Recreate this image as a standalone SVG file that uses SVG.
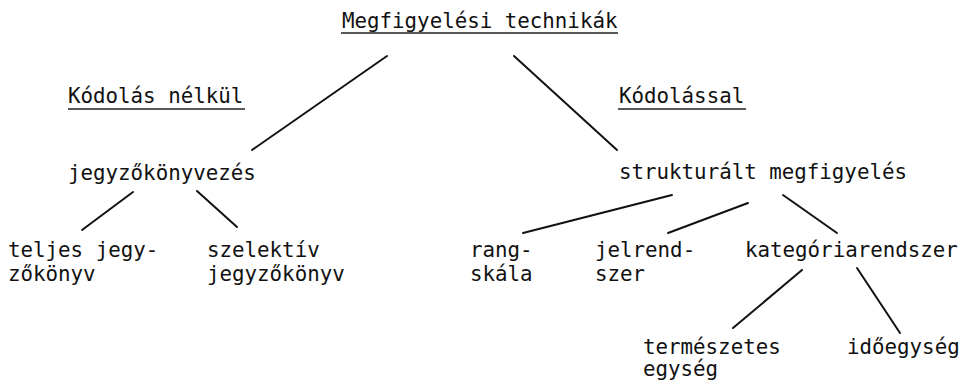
<svg xmlns="http://www.w3.org/2000/svg" width="965" height="382" viewBox="0 0 965 382">
  <style>
    text { font-family: "DejaVu Sans Mono", "Liberation Mono", monospace; font-size: 20.8px; fill: #111; }
    .edge { stroke: #111; stroke-width: 2; stroke-linecap: round; fill: none; }
    .ul { stroke: #222; stroke-width: 1.6; fill: none; }
  </style>
  <rect width="965" height="382" fill="#fff"/>

  <g id="connectors">
    <line class="edge" x1="387" y1="56" x2="252" y2="150"/>
    <line class="edge" x1="514" y1="56" x2="617" y2="150"/>
    <line class="edge" x1="133" y1="192" x2="82" y2="230"/>
    <line class="edge" x1="197" y1="191" x2="237" y2="227"/>
    <line class="edge" x1="672" y1="195" x2="523" y2="233"/>
    <line class="edge" x1="748" y1="203" x2="668" y2="233"/>
    <line class="edge" x1="783" y1="195" x2="837" y2="233"/>
    <line class="edge" x1="802" y1="270" x2="733" y2="328"/>
    <line class="edge" x1="857" y1="268" x2="900" y2="333"/>
  </g>

  <g id="root">
    <text x="342" y="28">Megfigyelési technikák</text>
    <line class="ul" x1="341" y1="33" x2="618" y2="33"/>
  </g>

  <g id="heading-uncoded">
    <text x="68" y="103">Kódolás nélkül</text>
    <line class="ul" x1="68" y1="109" x2="245" y2="109"/>
  </g>

  <g id="heading-coded">
    <text x="619" y="103">Kódolással</text>
    <line class="ul" x1="618" y1="109" x2="746" y2="109"/>
  </g>

  <g id="node-jegyzokonyvezes">
    <text x="68" y="180">jegyzőkönyvezés</text>
  </g>

  <g id="node-strukturalt">
    <text x="619" y="179">strukturált megfigyelés</text>
  </g>

  <g id="node-teljes">
    <text x="8" y="257">teljes jegy-</text>
    <text x="8" y="281">zőkönyv</text>
  </g>

  <g id="node-szelektiv">
    <text x="207" y="257">szelektív</text>
    <text x="207" y="281">jegyzőkönyv</text>
  </g>

  <g id="node-rangskala">
    <text x="470" y="257">rang-</text>
    <text x="470" y="281">skála</text>
  </g>

  <g id="node-jelrendszer">
    <text x="595" y="257">jelrend-</text>
    <text x="595" y="281">szer</text>
  </g>

  <g id="node-kategoriarendszer">
    <text x="745" y="257">kategóriarendszer</text>
  </g>

  <g id="node-termeszetes">
    <text x="643" y="354">természetes</text>
    <text x="643" y="376">egység</text>
  </g>

  <g id="node-idoegyseg">
    <text x="847" y="354">időegység</text>
  </g>
</svg>
